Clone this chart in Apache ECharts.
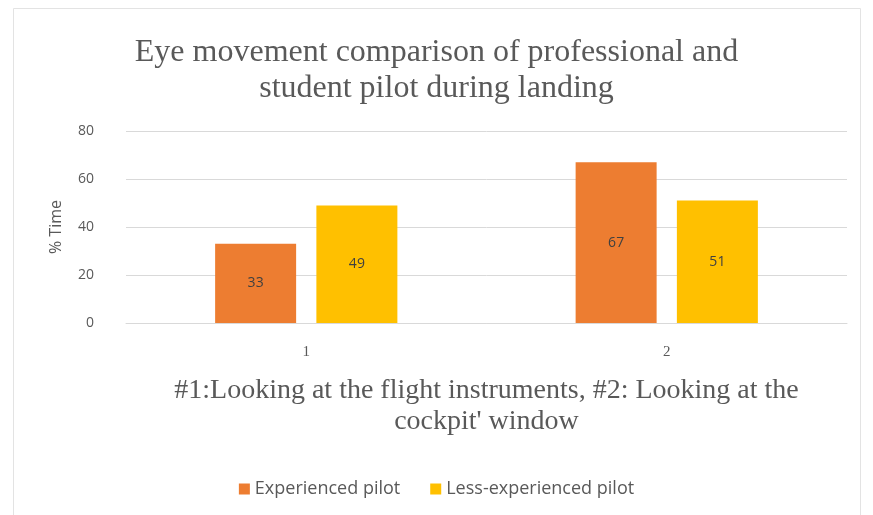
<!DOCTYPE html>
<html>
<head>
<meta charset="utf-8">
<script src="https://cdn.jsdelivr.net/npm/echarts@6/dist/echarts.min.js"></script>
<style>
  html, body { margin: 0; padding: 0; background: #fff; }
  #chart { width: 873px; height: 515px; }
</style>
</head>
<body>
<div id="chart"></div>
<script>
var categories = ['1', '2'];
var experienced = [33, 67];
var lessExperienced = [49, 51];
var yTicks = [0, 20, 40, 60, 80];

var chart = echarts.init(document.getElementById('chart'));

var option = {
    backgroundColor: '#fff',
    animation: false,
    title: {
        text: 'Eye movement comparison of professional and\nstudent pilot during landing',
        left: 'center',
        top: 30,
        textStyle: {
            fontFamily: 'Liberation Serif',
            fontWeight: 'normal',
            fontSize: 32,
            color: '#595959',
            lineHeight: 36
        }
    },
    graphic: [{
        type: 'rect',
        shape: { x: 13.5, y: 8.5, width: 847, height: 520 },
        style: { fill: 'none', stroke: '#e3e3e3', lineWidth: 1 },
        silent: true
    }],
    legend: {
        top: 475,
        left: 'center',
        itemWidth: 11,
        itemHeight: 11,
        itemGap: 30,
        icon: 'rect',
        textStyle: { fontFamily: 'Open Sans', fontSize: 18, color: '#595959' },
        data: ['Experienced pilot', 'Less-experienced pilot']
    },
    grid: { left: 126, right: 26, top: 131, bottom: 192 },
    xAxis: {
        type: 'category',
        data: categories,
        axisTick: { show: false },
        axisLine: { lineStyle: { color: '#d9d9d9' } },
        axisLabel: { fontFamily: 'Liberation Serif', fontSize: 15, color: '#595959', margin: 22 },
        name: '#1:Looking at the flight instruments, #2: Looking at the\ncockpit\' window',
        nameLocation: 'middle',
        nameGap: 52,
        nameTextStyle: {
            fontFamily: 'Liberation Serif',
            fontSize: 28,
            color: '#595959',
            lineHeight: 31
        }
    },
    yAxis: {
        type: 'value',
        min: yTicks[0],
        max: yTicks[yTicks.length - 1],
        interval: 20,
        name: '% Time',
        nameLocation: 'middle',
        nameGap: 62,
        nameTextStyle: { fontFamily: 'Open Sans', fontSize: 16, color: '#595959' },
        axisLabel: { fontFamily: 'Open Sans', fontSize: 14, color: '#595959', margin: 32 },
        axisLine: { show: false },
        axisTick: { show: false },
        splitLine: { lineStyle: { color: '#d9d9d9' } }
    },
    series: [
        {
            name: 'Experienced pilot',
            type: 'bar',
            data: experienced,
            barWidth: 81,
            barGap: '25%',
            itemStyle: { color: '#ed7d31' },
            label: { show: true, position: 'inside', fontFamily: 'Open Sans', fontSize: 14, color: '#404040' }
        },
        {
            name: 'Less-experienced pilot',
            type: 'bar',
            data: lessExperienced,
            barWidth: 81,
            itemStyle: { color: '#ffc000' },
            label: { show: true, position: 'inside', fontFamily: 'Open Sans', fontSize: 14, color: '#404040' }
        }
    ]
};

chart.setOption(option);
</script>
</body>
</html>
